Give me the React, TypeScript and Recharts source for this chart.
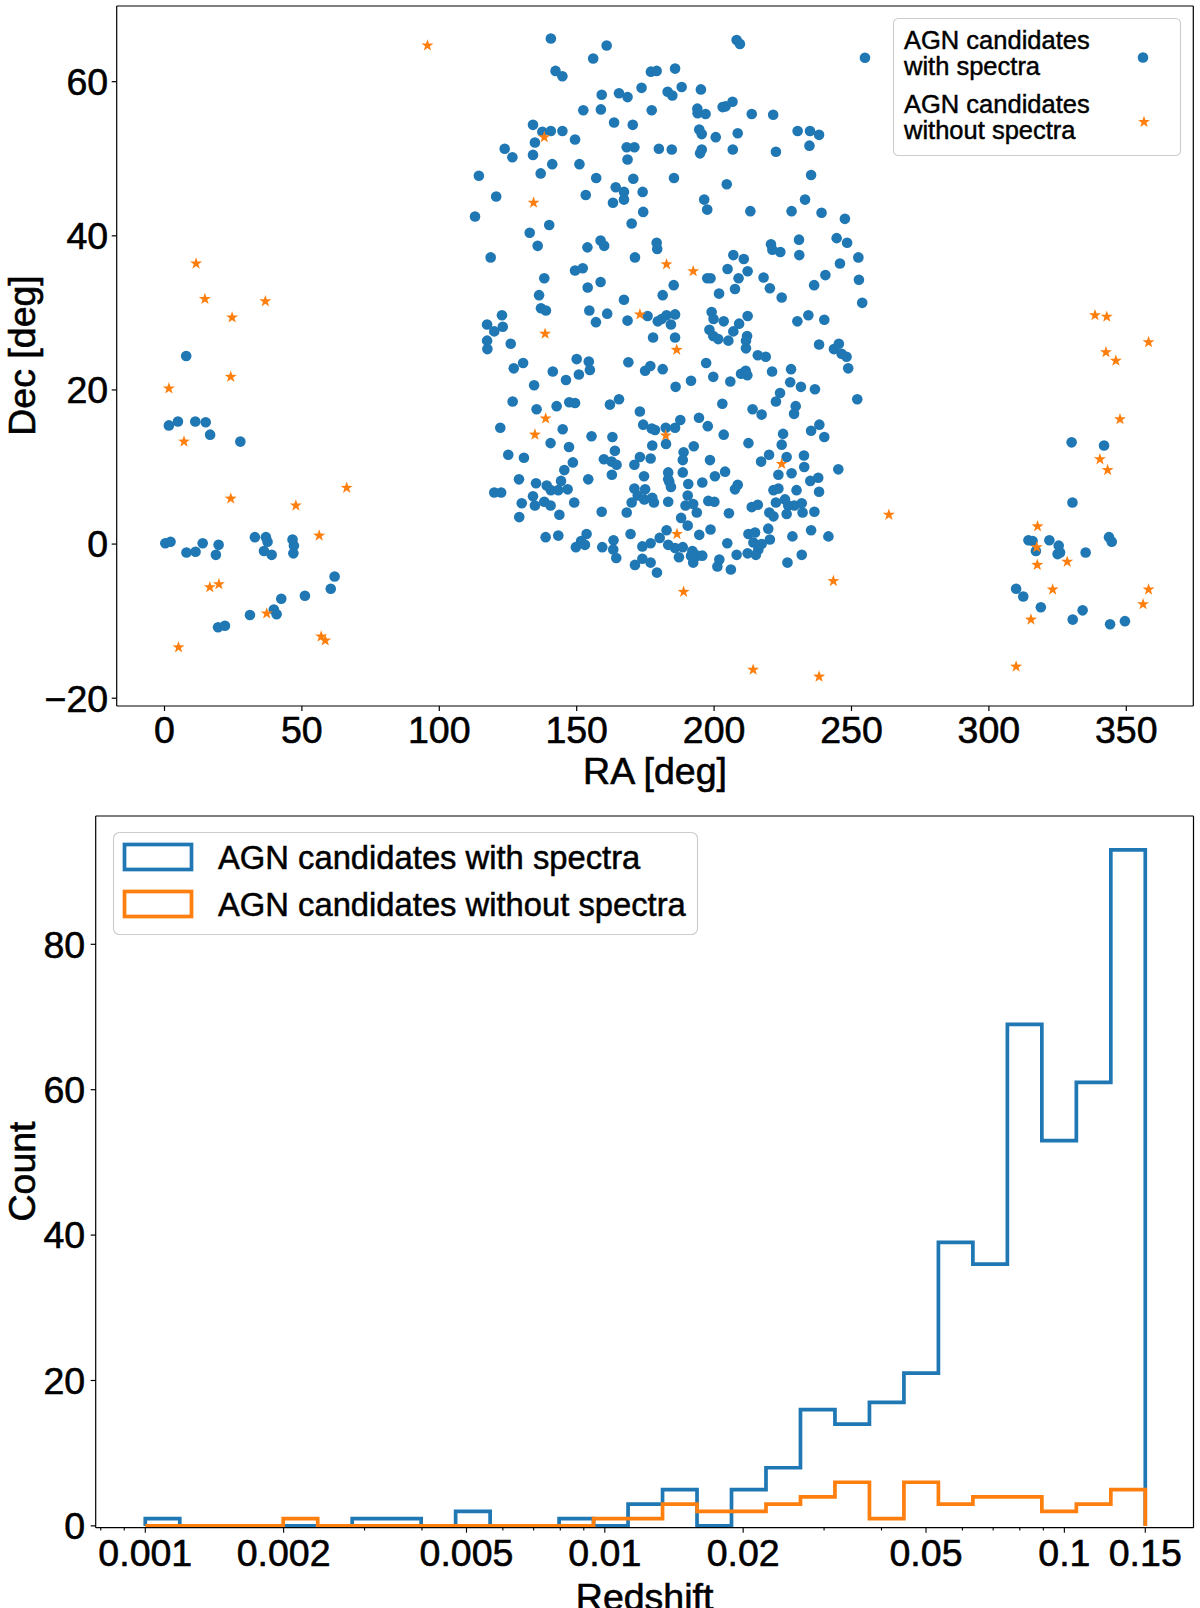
import React from 'react';
import {
  ScatterChart,
  Scatter,
  LineChart,
  Line,
  XAxis,
  YAxis,
  ReferenceLine,
  Legend,
} from 'recharts';

const FONT = '"Liberation Sans", Arial, Helvetica, sans-serif';
const BLUE = '#1f77b4';
const ORANGE = '#ff7f0e';
const AXIS = '#000';

// ---------- Top panel data (RA, Dec in degrees) ----------
const WITH_SPECTRA_POSITIONS: [number, number][] = [
  [140.6,65.6],[160.9,64.7],[156.0,63.0],[208.2,65.4],[209.4,64.9],[254.9,63.1],[142.3,61.4],[144.8,60.7],[177.0,61.3],[179.1,61.4],
  [185.8,61.7],[159.1,58.3],[165.4,58.5],[168.5,58.0],[173.6,59.2],[183.1,58.7],[184.8,58.2],[188.2,59.3],[195.2,59.0],[152.4,56.3],
  [158.8,56.4],[177.3,56.3],[193.9,56.5],[194.0,55.9],[196.9,55.8],[203.1,56.7],[204.2,56.8],[206.7,57.4],[213.7,55.8],[221.5,55.7],
  [134.1,54.4],[137.5,53.5],[140.6,53.6],[144.8,53.6],[149.4,52.5],[163.6,54.7],[170.4,54.4],[194.6,53.8],[195.5,53.2],[200.6,52.8],
  [208.6,53.3],[230.4,53.6],[234.9,53.6],[238.2,53.1],[123.8,51.3],[134.8,52.1],[126.6,50.2],[134.1,50.5],[168.2,51.5],[171.0,51.5],
  [168.5,49.9],[179.9,51.3],[184.6,51.2],[195.5,51.2],[194.9,50.7],[206.8,51.2],[222.5,50.9],[234.7,51.7],[114.4,47.8],[136.9,48.1],
  [141.1,49.3],[151.0,49.3],[157.1,47.5],[170.6,47.4],[185.4,47.5],[204.6,46.7],[235.3,47.9],[120.7,45.1],[153.3,45.3],[164.2,46.3],
  [167.2,45.7],[163.2,44.3],[167.2,44.7],[174.0,45.7],[196.4,44.7],[233.1,44.7],
  [113.0,42.5],[174.2,43.1],[197.5,43.4],[213.2,43.2],[228.2,43.2],[239.1,43.0],[247.6,42.2],[132.9,40.4],[140.0,41.4],[135.8,38.7],
  [118.7,37.2],[170.0,41.6],[153.9,38.5],[158.7,39.4],[160.0,38.7],[179.1,39.1],[179.3,38.3],[171.2,37.2],[207.0,37.5],[210.8,37.0],
  [220.7,38.9],[221.2,38.2],[224.1,37.9],[230.9,39.5],[231.0,37.5],[244.6,39.7],[248.4,39.1],[252.5,37.2],[245.8,36.4],[149.4,35.5],
  [152.2,35.8],[138.2,34.5],[154.0,33.3],[158.7,34.0],[136.3,32.3],[137.0,30.6],[138.8,30.3],[204.9,35.7],[208.9,34.5],[212.2,35.4],
  [197.5,34.5],[198.7,34.5],[218.0,34.6],[220.3,33.2],[224.6,32.0],[207.6,33.1],[201.8,32.5],[185.3,33.6],[181.3,32.3],[167.2,31.7],
  [236.4,33.6],[240.5,34.9],[252.7,34.3],[253.9,31.3],[122.8,29.7],[117.4,28.5],[120.0,27.6],[123.1,28.2],[117.4,26.4],[117.5,25.3],
  [126.0,26.0],[154.6,30.3],[157.0,28.8],[161.1,29.9],[168.5,29.0],[175.8,29.6],[179.5,28.9],[180.9,29.2],[182.7,29.7],[185.8,29.8],
  [184.3,28.5],[177.8,26.8],[185.8,26.8],[199.1,30.1],[199.8,29.2],[203.5,28.9],[209.1,28.6],[212.2,29.6],[198.3,27.8],[199.7,27.0],
  [201.5,26.6],[207.0,27.6],[205.2,26.4],[212.0,27.0],[211.6,26.4],[211.6,25.4],[215.9,24.5],[218.8,24.3],[230.3,28.9],[234.3,29.7],
  [240.1,29.1],[238.2,25.9],[243.6,25.3],[245.4,26.0],[246.4,24.7],[248.2,24.3],[248.8,22.8],[127.1,22.8],[130.5,23.5],[141.3,22.4],
  [146.1,21.3],[134.5,20.6],[150.0,24.0],[154.4,23.7],[154.8,22.6],[150.8,22.0],[168.8,23.6],[174.9,22.5],[176.8,23.1],[181.3,22.7],
  [186.0,20.4],[191.6,21.2],[197.1,23.5],[199.7,21.7],[205.9,21.1],[209.8,22.1],[211.5,22.5],[212.1,21.9],[221.1,22.4],[228.0,22.7],
  [227.7,21.0],[231.6,20.4],[236.7,20.1],[224.0,19.6],
  [126.7,18.5],[135.4,17.5],[142.7,17.9],[147.3,18.4],[149.4,18.3],[162.1,18.1],[165.4,18.8],[173.0,17.2],[203.0,18.2],[214.0,17.5],
  [217.3,16.8],[222.5,18.5],[229.7,17.9],[229.1,16.9],[252.1,18.8],[122.2,15.1],[144.9,14.9],[140.5,13.1],[147.2,12.6],[155.4,14.0],
  [163.0,13.9],[163.9,12.1],[174.2,15.5],[177.3,15.0],[178.5,14.8],[182.4,15.1],[185.8,15.1],[187.7,16.1],[182.5,13.0],[177.5,12.8],
  [194.5,16.4],[197.7,15.3],[203.5,14.2],[212.5,13.1],[225.1,14.3],[224.6,12.9],[235.3,14.7],[238.3,15.5],[240.1,13.9],[125.1,11.6],
  [130.8,11.2],[145.5,9.6],[148.6,10.6],[159.9,11.0],[162.7,10.7],[164.5,10.3],[162.8,9.0],[154.2,8.4],[171.0,10.3],[173.0,11.3],
  [176.9,11.1],[174.5,8.8],[188.9,11.9],[188.6,10.9],[192.6,12.7],[198.5,10.9],[183.3,9.3],[183.7,8.1],[188.6,9.3],[200.3,8.8],
  [204.0,9.4],[217.1,10.7],[220.0,11.6],[226.4,11.3],[223.4,9.0],[228.2,9.2],[232.7,11.5],[232.8,10.0],[245.2,9.7],[235.0,8.2],
  [237.9,8.6],[238.2,6.8],[120.0,6.7],[122.5,6.7],[129.0,8.4],[135.2,7.9],[139.1,7.6],[140.6,7.0],[143.3,7.0],[144.3,8.2],
  [146.7,7.1],[134.1,6.2],[138.2,5.5],[134.8,5.0],[140.5,5.0],[130.0,5.3],[129.1,3.5],[143.7,3.8],[149.1,5.4],[159.1,4.2],
  [168.2,4.1],[171.0,7.2],[170.0,5.4],[172.2,6.3],[174.9,7.1],[174.6,5.8],[177.5,6.0],[178.1,5.4],[183.3,5.5],[184.3,7.4],
  [183.3,8.4],[190.6,7.8],[190.4,6.3],[189.6,5.0],[192.4,5.2],[193.7,4.1],[195.7,8.0],[197.9,5.6],[200.1,5.5],[208.6,7.7],
  [207.6,7.1],[205.4,4.0],[213.7,4.8],[215.9,5.1],[220.1,4.1],[221.6,3.6],[221.6,7.0],[223.4,7.2],[222.5,5.4],[225.8,5.8],
  [227.0,5.0],[226.4,3.9],[230.0,7.0],[229.2,5.0],[231.9,5.3],[232.2,4.1],[236.5,4.2],[188.0,3.4],[190.4,2.4],[198.7,1.9],
  [194.6,1.2],[182.7,1.8],[180.2,0.8],[183.3,-0.1],[185.8,-0.5],[188.6,-0.4],[187.2,-1.7],[192.1,-0.9],[193.9,-1.5],[192.4,-2.4],
  [191.6,-1.5],[195.7,-1.5],[204.8,0.1],[201.9,-2.0],[201.2,-2.9],[206.1,-3.3],[208.2,-1.4],[212.2,-1.2],[212.5,1.3],[214.9,1.5],
  [214.3,0.2],[216.1,-0.7],[215.2,-1.4],[220.3,0.6],[219.7,2.0],[217.3,0.0],[228.5,1.0],[235.3,1.8],[241.6,1.0],[231.9,-1.4],
  [226.7,-2.4],[138.7,0.9],[143.3,1.1],[153.6,1.3],[151.6,0.4],[149.7,-0.4],[153.0,-0.1],[159.3,-0.4],[163.4,0.5],[163.3,-0.7],
  [164.4,-1.8],[169.6,1.3],[173.9,-0.3],[176.9,0.1],[171.2,-2.7],[173.9,-1.9],[176.9,-2.4],[179.2,-3.7],
  [7.9,24.4],[1.6,15.4],[4.9,15.9],[11.2,15.9],[15.0,15.8],[16.6,14.2],[27.6,13.3],[0.3,0.1],[2.2,0.3],[8.0,-1.1],
  [11.3,-1.0],[13.9,0.1],[19.7,-0.1],[18.7,-1.4],[32.9,0.9],[36.9,0.9],[37.5,0.3],[36.2,-0.9],[39.0,-1.4],[46.6,0.6],
  [47.1,-0.2],[46.9,-1.2],[61.9,-4.2],[60.5,-5.8],[51.1,-6.7],[42.5,-7.1],[39.8,-8.5],[40.8,-9.1],[31.1,-9.2],[19.5,-10.8],
  [22.0,-10.6],
  [330.1,13.2],[341.9,12.8],[330.4,5.4],[314.4,0.5],[315.9,0.4],[317.1,-0.9],[322.0,0.5],[325.4,-0.2],[325.0,-1.3],[325.9,-1.1],
  [335.2,-1.1],[343.7,0.9],[344.7,0.3],[309.9,-5.8],[312.5,-6.8],[318.9,-8.2],[334.1,-8.6],[330.5,-9.8],[344.1,-10.4],[349.5,-10.0],
];

const WITHOUT_SPECTRA_POSITIONS: [number, number][] = [
  [95.7,64.7],[138.2,52.8],[134.3,44.3],[182.7,36.3],[192.4,35.4],[138.5,27.3],[173.0,29.8],[186.4,25.2],[138.7,16.3],[134.8,14.2],
  [182.4,14.1],[224.6,10.4],[186.5,1.3],[188.9,-6.2],[243.4,-4.8],[263.6,3.8],[214.2,-16.3],[238.2,-17.2],
  [11.5,36.4],[14.7,31.8],[36.7,31.5],[24.6,29.4],[24.1,21.7],[1.6,20.2],[7.1,13.3],[24.1,5.9],[66.3,7.3],[47.8,5.0],
  [56.3,1.1],[16.5,-5.6],[19.8,-5.2],[37.2,-9.0],[57.0,-12.0],[58.5,-12.5],[5.1,-13.4],
  [338.6,29.7],[342.9,29.5],[342.6,24.9],[346.2,23.8],[347.7,16.2],[340.4,11.0],[343.2,9.6],[317.7,2.3],[317.4,-0.4],[317.6,-2.7],
  [328.5,-2.3],[323.2,-5.9],[315.3,-9.8],[309.9,-15.9],[358.1,26.2],[358.1,-5.9],[356.1,-7.8],
];

const RA_TICKS = [0, 50, 100, 150, 200, 250, 300, 350];
const DEC_TICKS = [-20, 0, 20, 40, 60];
const RA_DOMAIN: [number, number] = [-17.39, 374.38];
const DEC_DOMAIN: [number, number] = [-21.01, 69.82];

// ---------- Bottom panel data (redshift histogram, 29 log bins) ----------
const BIN_EDGES = [
  0.001, 0.0011886, 0.0014128, 0.0016793, 0.0019960, 0.0023725, 0.0028200, 0.0033518, 0.0039840, 0.0047355,
  0.0056286, 0.0066903, 0.0079521, 0.0094520, 0.011235, 0.013354, 0.015872, 0.018866, 0.022425, 0.026654,
  0.031681, 0.037657, 0.044759, 0.053201, 0.063236, 0.075163, 0.089339, 0.10619, 0.12622, 0.15,
];
const WITH_SPECTRA_COUNTS = [1, 0, 0, 0, 0, 0, 1, 1, 0, 2, 0, 0, 1, 0, 3, 5, 0, 5, 8, 16, 14, 17, 21, 39, 36, 69, 53, 61, 93];
const WITHOUT_SPECTRA_COUNTS = [0, 0, 0, 0, 1, 0, 0, 0, 0, 0, 0, 0, 0, 1, 1, 3, 2, 2, 3, 4, 6, 1, 6, 3, 4, 4, 2, 3, 5];
const Z_MAJOR_TICKS = [0.001, 0.002, 0.005, 0.01, 0.02, 0.05, 0.1, 0.15];
const Z_MINOR_TICKS = [0.0008, 0.0009, 0.003, 0.004, 0.006, 0.007, 0.008, 0.009, 0.03, 0.04, 0.06, 0.07, 0.08, 0.09];
const COUNT_TICKS = [0, 20, 40, 60, 80];
const Z_DOMAIN: [number, number] = [0.00078, 0.191];
const COUNT_DOMAIN: [number, number] = [-0.25, 97.65];

const LABEL_WITH = 'AGN candidates with spectra';
const LABEL_WITHOUT = 'AGN candidates without spectra';

const withPoints = WITH_SPECTRA_POSITIONS.map(([ra, dec]) => ({ ra, dec }));
const withoutPoints = WITHOUT_SPECTRA_POSITIONS.map(([ra, dec]) => ({ ra, dec }));

const stepSeries = (counts: number[]) => [
  { z: BIN_EDGES[0], count: 0 },
  ...counts.map((c, i) => ({ z: BIN_EDGES[i], count: c })),
  { z: BIN_EDGES[BIN_EDGES.length - 1], count: 0 },
];
const withSteps = stepSeries(WITH_SPECTRA_COUNTS);
const withoutSteps = stepSeries(WITHOUT_SPECTRA_COUNTS);

const TICK_FONT = 37.5;
const TEXT_STROKE = 0.6;
const tickStyle = { fontSize: TICK_FONT, fill: '#000', fontFamily: FONT, stroke: '#000', strokeWidth: TEXT_STROKE };
const minus = (v: number) => String(v).replace('-', '\u2212');

const CircleMarker = (props: any) => {
  const { cx, cy } = props;
  if (cx == null || cy == null) return null;
  return <circle cx={cx} cy={cy} r={5.3} fill={BLUE} />;
};

const starPoints = (cx: number, cy: number, R: number, r: number) => {
  const pts: string[] = [];
  for (let k = 0; k < 10; k++) {
    const ang = -Math.PI / 2 + (k * Math.PI) / 5;
    const rad = k % 2 === 0 ? R : r;
    pts.push(`${cx + rad * Math.cos(ang)},${cy + rad * Math.sin(ang)}`);
  }
  return pts.join(' ');
};

const StarMarker = (props: any) => {
  const { cx, cy } = props;
  if (cx == null || cy == null) return null;
  return <polygon points={starPoints(cx, cy, 6.3, 2.5)} fill={ORANGE} />;
};

const TopLegend = () => (
  <svg width={290} height={140} style={{ display: 'block', overflow: 'visible' }}>
    <rect x={0.5} y={0.5} width={287} height={137} rx={5} ry={5} fill="rgba(255,255,255,0.8)" stroke="#cccccc" strokeWidth={1.1} />
    <g fontFamily={FONT} fontSize={25.5} fill="#000" stroke="#000" strokeWidth={0.45}>
      <text x={11} y={31}>AGN candidates</text>
      <text x={11} y={57}>with spectra</text>
      <text x={11} y={95}>AGN candidates</text>
      <text x={11} y={120.5}>without spectra</text>
    </g>
    <circle cx={250} cy={39.5} r={5.3} fill={BLUE} />
    <polygon points={starPoints(251, 104, 6.3, 2.5)} fill={ORANGE} />
  </svg>
);

const BottomLegend = () => (
  <svg width={588} height={106} style={{ display: 'block', overflow: 'visible' }}>
    <rect x={0.5} y={0.5} width={584} height={102} rx={6} ry={6} fill="rgba(255,255,255,0.8)" stroke="#cccccc" strokeWidth={1.1} />
    <rect x={11.5} y={12.5} width={67} height={25} fill="none" stroke={BLUE} strokeWidth={3.7} />
    <rect x={11.5} y={59.5} width={67} height={25} fill="none" stroke={ORANGE} strokeWidth={3.7} />
    <g fontFamily={FONT} fontSize={32.75} fill="#000" stroke="#000" strokeWidth={0.5}>
      <text x={105} y={36.5}>{LABEL_WITH}</text>
      <text x={105} y={84}>{LABEL_WITHOUT}</text>
    </g>
  </svg>
);

const LogTick = (props: any) => {
  const { x, y, payload } = props;
  const v = payload.value;
  const isMajor = Z_MAJOR_TICKS.indexOf(v) >= 0;
  return (
    <g>
      <line x1={x} x2={x} y1={y} y2={y + (isMajor ? 5 : 2.8)} stroke={AXIS} strokeWidth={1.1} />
      {isMajor ? (
        <text
          x={x}
          y={y + 38}
          textAnchor="middle"
          fontSize={TICK_FONT}
          fontFamily={FONT}
          fill="#000"
          stroke="#000"
          strokeWidth={TEXT_STROKE}
        >
          {String(v)}
        </text>
      ) : null}
    </g>
  );
};

const axisLineStyle = { stroke: AXIS, strokeWidth: 1.2 };

const AxisTitle = ({ x, y, rotate, children }: any) => (
  <text
    x={x}
    y={y}
    transform={rotate ? `rotate(-90, ${x}, ${y})` : undefined}
    textAnchor="middle"
    fontSize={TICK_FONT}
    fontFamily={FONT}
    fill="#000"
    stroke="#000"
    strokeWidth={TEXT_STROKE}
  >
    {children}
  </text>
);

export default function App() {
  return (
    <div
      style={{
        position: 'absolute',
        left: 0,
        top: 0,
        width: 1200,
        height: 1608,
        overflow: 'hidden',
        background: '#fff',
        fontFamily: FONT,
      }}
    >
      <div style={{ position: 'absolute', left: 0, top: 0 }}>
        <ScatterChart width={1200} height={800} margin={{ top: 6, right: 6.7, bottom: 5, left: 0 }}>
          <XAxis
            type="number"
            dataKey="ra"
            domain={RA_DOMAIN}
            allowDataOverflow
            ticks={RA_TICKS}
            interval={0}
            height={89}
            tickSize={5}
            tickMargin={5}
            tick={tickStyle}
            axisLine={axisLineStyle}
            tickLine={axisLineStyle}
            label={() => <AxisTitle x={655} y={784}>RA [deg]</AxisTitle>}
          />
          <YAxis
            type="number"
            dataKey="dec"
            domain={DEC_DOMAIN}
            allowDataOverflow
            ticks={DEC_TICKS}
            interval={0}
            width={116.7}
            tickSize={5}
            tickMargin={3.5}
            tick={tickStyle}
            tickFormatter={minus}
            axisLine={axisLineStyle}
            tickLine={axisLineStyle}
            label={() => <AxisTitle x={34.5} y={355.5} rotate>Dec [deg]</AxisTitle>}
          />
          <ReferenceLine y={DEC_DOMAIN[1]} stroke={AXIS} strokeWidth={1.2} />
          <ReferenceLine x={RA_DOMAIN[1]} stroke={AXIS} strokeWidth={1.2} />
          <Scatter name={LABEL_WITH} data={withPoints} shape={<CircleMarker />} isAnimationActive={false} />
          <Scatter name={LABEL_WITHOUT} data={withoutPoints} shape={<StarMarker />} isAnimationActive={false} />
          <Legend
            layout="horizontal"
            verticalAlign="middle"
            align="center"
            width={290}
            height={140}
            wrapperStyle={{ left: 893, top: 18, width: 290, height: 140, margin: 0, padding: 0 }}
            content={() => <TopLegend />}
          />
        </ScatterChart>
      </div>

      <div style={{ position: 'absolute', left: 0, top: 800 }}>
        <LineChart width={1200} height={820} margin={{ top: 16, right: 6.5, bottom: 5, left: 0 }}>
          <XAxis
            type="number"
            dataKey="z"
            scale="log"
            domain={Z_DOMAIN}
            allowDataOverflow
            ticks={[...Z_MINOR_TICKS, ...Z_MAJOR_TICKS].sort((a, b) => a - b)}
            interval={0}
            height={87.3}
            tickSize={0}
            tickMargin={0}
            tickLine={false}
            tick={<LogTick />}
            axisLine={axisLineStyle}
            label={() => <AxisTitle x={644.6} y={810}>Redshift</AxisTitle>}
          />
          <YAxis
            type="number"
            domain={COUNT_DOMAIN}
            allowDataOverflow
            ticks={COUNT_TICKS}
            interval={0}
            width={95.7}
            tickSize={5}
            tickMargin={5.5}
            tick={tickStyle}
            axisLine={axisLineStyle}
            tickLine={axisLineStyle}
            label={() => <AxisTitle x={34.5} y={371.5} rotate>Count</AxisTitle>}
          />
          <ReferenceLine y={COUNT_DOMAIN[1]} stroke={AXIS} strokeWidth={1.2} />
          <ReferenceLine x={Z_DOMAIN[1]} stroke={AXIS} strokeWidth={1.2} />
          <Line
            name={LABEL_WITH}
            data={withSteps}
            dataKey="count"
            type="stepAfter"
            stroke={BLUE}
            strokeWidth={3.7}
            dot={false}
            activeDot={false}
            isAnimationActive={false}
            strokeLinejoin="miter"
          />
          <Line
            name={LABEL_WITHOUT}
            data={withoutSteps}
            dataKey="count"
            type="stepAfter"
            stroke={ORANGE}
            strokeWidth={3.7}
            dot={false}
            activeDot={false}
            isAnimationActive={false}
            strokeLinejoin="miter"
          />
          <Legend
            layout="horizontal"
            verticalAlign="middle"
            align="center"
            width={588}
            height={106}
            wrapperStyle={{ left: 113, top: 31.5, width: 588, height: 106, margin: 0, padding: 0 }}
            content={() => <BottomLegend />}
          />
        </LineChart>
      </div>
    </div>
  );
}
